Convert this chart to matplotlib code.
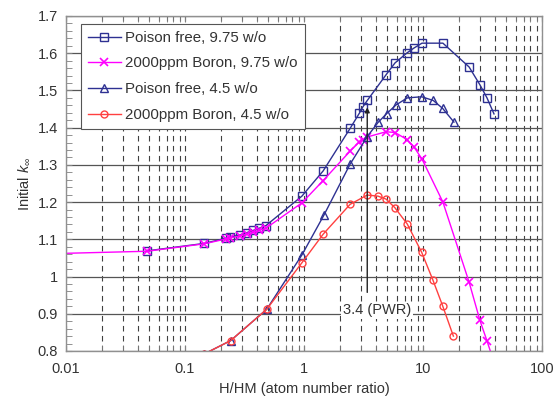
import numpy as np
import matplotlib
matplotlib.use("Agg")
import matplotlib.pyplot as plt
from matplotlib.ticker import FuncFormatter, MultipleLocator, LogLocator

plt.rcParams['font.family'] = ['Liberation Sans', 'DejaVu Sans']
plt.rcParams['mathtext.fontset'] = 'custom'
plt.rcParams['mathtext.rm'] = 'Liberation Sans'
plt.rcParams['mathtext.it'] = 'Liberation Sans:italic'

#Data (H/HM ratio, initial k-inf)
x_pf975 = [0.048, 0.145, 0.221, 0.239, 0.29, 0.33, 0.375, 0.421, 0.479, 0.96, 1.45, 2.44,
           2.92, 3.11, 3.4, 4.89, 5.82, 7.35, 8.4, 9.8, 14.7, 24.4, 30.1, 34.5, 39.5]
k_pf975 = [1.069, 1.089, 1.103, 1.106, 1.112, 1.118, 1.124, 1.130, 1.137, 1.216, 1.284, 1.398,
           1.439, 1.455, 1.473, 1.542, 1.574, 1.601, 1.614, 1.627, 1.627, 1.563, 1.515, 1.480, 1.437]

x_b975 = [0.005, 0.048, 0.145, 0.221, 0.239, 0.29, 0.33, 0.375, 0.421, 0.479, 0.96, 1.45, 2.44,
          2.92, 3.11, 3.4, 4.89, 5.82, 7.35, 8.4, 9.8, 14.7, 24.4, 30.1, 34.5, 39.5]
k_b975 = [1.060, 1.068, 1.088, 1.101, 1.104, 1.109, 1.114, 1.119, 1.124, 1.130, 1.198, 1.258, 1.337,
          1.362, 1.367, 1.375, 1.389, 1.387, 1.368, 1.348, 1.316, 1.200, 0.985, 0.882, 0.827, 0.77]

x_pf45 = [0.145, 0.242, 0.486, 0.96, 1.47, 2.44, 3.4, 4.19, 4.96, 5.93, 7.38, 9.75, 12.2, 14.6, 18.2]
k_pf45 = [0.792, 0.828, 0.912, 1.058, 1.165, 1.302, 1.376, 1.414, 1.438, 1.461, 1.480, 1.483,
          1.473, 1.452, 1.415]

x_b45 = [0.145, 0.242, 0.486, 0.96, 1.45, 2.44, 3.4, 4.19, 4.9, 5.8, 7.38, 9.75, 12.1, 14.6, 18.0]
k_b45 = [0.792, 0.828, 0.912, 1.037, 1.114, 1.194, 1.219, 1.216, 1.208, 1.185, 1.141, 1.065,
         0.991, 0.922, 0.840]

labels = ["Poison free, 9.75 w/o", "2000ppm Boron, 9.75 w/o",
          "Poison free, 4.5 w/o", "2000ppm Boron, 4.5 w/o"]

pwr_ratio = 3.4

navy = "#2E3192"
magenta = "#FF00FF"
red = "#FF4040"
grey = "#404040"

fig = plt.figure(figsize=(5.57, 4.03), dpi=100)
ax = fig.add_axes([66/557, 1-351/403, 476/557, 335/403])

ax.plot(x_pf975, k_pf975, color=navy, lw=1, marker="s", ms=5.5, mfc="none", mew=1, label=labels[0])
ax.plot(x_b975, k_b975, color=magenta, lw=1, marker="x", ms=5.5, mew=1.2, label=labels[1])
ax.plot(x_pf45, k_pf45, color=navy, lw=1, marker="^", ms=5.5, mfc="none", mew=1, label=labels[2])
ax.plot(x_b45, k_b45, color=red, lw=1, marker="o", ms=5, mfc="none", mew=1, label=labels[3])

ax.set_xscale("log")
ax.set_xlim(0.01, 100)
ax.set_ylim(0.8, 1.7)
ax.xaxis.set_major_formatter(FuncFormatter(lambda v, p: "%g" % v))
ax.xaxis.set_minor_locator(LogLocator(base=10, subs=np.arange(2, 10)))
ax.xaxis.set_minor_formatter(FuncFormatter(lambda v, p: ""))
ax.yaxis.set_major_locator(MultipleLocator(0.1))
ax.yaxis.set_minor_locator(MultipleLocator(0.02))
ax.yaxis.set_major_formatter(FuncFormatter(lambda v, p: "%g" % round(v, 2)))

ax.grid(True, axis="x", which="both", color=grey, ls=(0, (5, 4)), lw=0.8)
ax.grid(True, axis="y", which="major", color="#555555", ls="-", lw=0.9)
ax.set_axisbelow(True)

ax.tick_params(axis="x", which="both", direction="in", top=True, bottom=True, length=4,
               color="#808080", labelsize=10.5, labelcolor="#333333", pad=8)
ax.tick_params(axis="y", which="both", direction="in", left=True, right=False, length=4,
               color="#808080", labelsize=10.5, labelcolor="#333333", pad=6)
for s in ax.spines.values():
    s.set_color("#909090")
    s.set_linewidth(1)

ax.set_xlabel("H/HM (atom number ratio)", fontsize=10.5, color="#333333", labelpad=4)
ax.set_ylabel("Initial $k_\\infty$", fontsize=10.5, color="#333333", labelpad=4)

#PWR marker
ax.annotate("", xy=(pwr_ratio, 1.462), xytext=(pwr_ratio, 0.95),
            arrowprops=dict(arrowstyle="-|>", color="#222222", lw=1, mutation_scale=7))
ax.text(4.1, 0.91, "3.4 (PWR)", ha="center", va="center", fontsize=10.5, color="#333333",
        bbox=dict(facecolor="white", edgecolor="none", pad=1))

leg = ax.legend(loc="upper left", bbox_to_anchor=(15/476, 1-8/335), borderaxespad=0,
                fontsize=10.8, handlelength=2.2, handletextpad=0.3, labelspacing=0.78,
                borderpad=0.45, fancybox=False, framealpha=1, edgecolor="#555555")
leg.get_frame().set_linewidth(0.8)
for t in leg.get_texts():
    t.set_color("#333333")

plt.savefig("out.png", dpi=100)
